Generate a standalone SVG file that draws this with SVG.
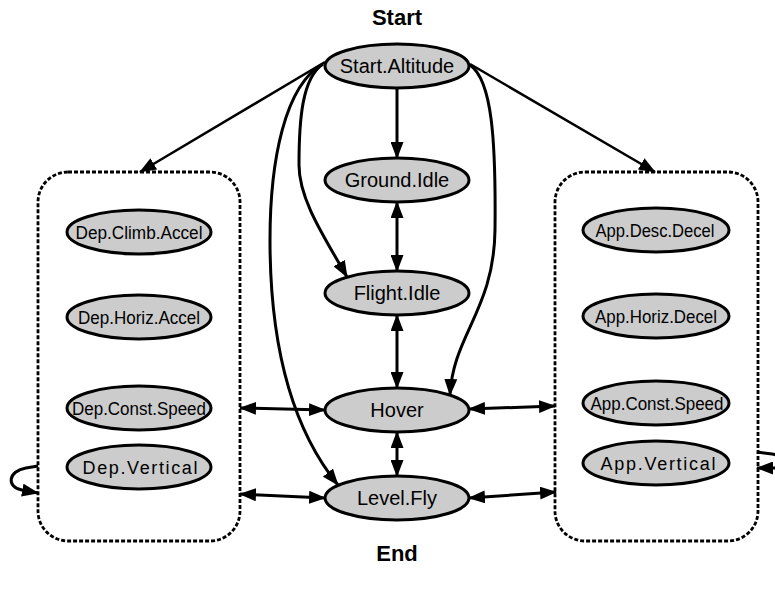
<svg xmlns="http://www.w3.org/2000/svg" width="775" height="595" viewBox="0 0 775 595">
<style>
  .node ellipse { fill: #cccccc; stroke: #000; stroke-width: 3; }
  .lbl { font-family: "Liberation Sans", Arial, sans-serif; font-size: 20px; fill: #000; text-anchor: middle; }
  .sm { font-size: 18px; }
  .title { font-family: "Liberation Sans", Arial, sans-serif; font-size: 22px; font-weight: bold; fill: #000; text-anchor: middle; }
  .box rect { fill: none; stroke: #000; stroke-width: 2.8; stroke-dasharray: 4 2; }
  .edges path { fill: none; stroke: #000; stroke-width: 3; }
  .edges .thin { stroke-width: 2.5; }
</style>
<defs>
  <marker id="ah" viewBox="0 0 17 13" markerWidth="17" markerHeight="13" refX="16" refY="6.5" orient="auto-start-reverse" markerUnits="userSpaceOnUse">
    <path d="M0,0 L17,6.5 L0,13 z" fill="#000"/>
  </marker>
</defs>
<rect width="775" height="595" fill="#fff"/>

<text class="title" x="397" y="25">Start</text>
<text class="title" x="397" y="561">End</text>

<g id="dep_box" class="box"><rect x="38" y="172" width="202" height="369" rx="30" ry="30"/></g>
<g id="app_box" class="box"><rect x="555" y="172" width="203" height="369" rx="30" ry="30"/></g>

<g id="edges" class="edges">
  <path class="thin" d="M325 62 L140 172" marker-end="url(#ah)"/>
  <path class="thin" d="M470 64 L655 172" marker-end="url(#ah)"/>
  <path d="M397 88 L397 158" marker-end="url(#ah)"/>
  <path d="M397 202 L397 271" marker-start="url(#ah)" marker-end="url(#ah)"/>
  <path d="M397 315 L397 388" marker-start="url(#ah)" marker-end="url(#ah)"/>
  <path d="M397 432 L397 476" marker-start="url(#ah)" marker-end="url(#ah)"/>
  <path d="M323 64 C302 78 299 120 299 165 C299 200 325 238 347 277" marker-end="url(#ah)"/>
  <path d="M323 64 C285 85 270 160 270 240 C270 330 285 420 338 485" marker-end="url(#ah)"/>
  <path d="M470 65 C492 80 496 140 495 230 C494 310 453 335 450 395" marker-end="url(#ah)"/>
  <path d="M240 408 L325 410" marker-start="url(#ah)" marker-end="url(#ah)"/>
  <path d="M240 494 L325 498" marker-start="url(#ah)" marker-end="url(#ah)"/>
  <path d="M469 409 L555 406" marker-start="url(#ah)" marker-end="url(#ah)"/>
  <path d="M469 498 L556 492" marker-start="url(#ah)" marker-end="url(#ah)"/>
  <path d="M38 466 L26 468 C8 471 6 487 22 490 L38 493" marker-end="url(#ah)"/>
  <path d="M757 452 L772 454 C790 457 790 468 775 468 L757 468" marker-end="url(#ah)"/>
</g>

<g id="start_altitude" class="node"><ellipse cx="397" cy="66" rx="72" ry="22"/><text class="lbl" x="397" y="73">Start.Altitude</text></g>
<g id="ground_idle" class="node"><ellipse cx="397" cy="180" rx="72" ry="22"/><text class="lbl" x="397" y="187">Ground.Idle</text></g>
<g id="flight_idle" class="node"><ellipse cx="397" cy="293" rx="72" ry="22"/><text class="lbl" x="397" y="300">Flight.Idle</text></g>
<g id="hover" class="node"><ellipse cx="397" cy="410" rx="72" ry="22"/><text class="lbl" x="397" y="417">Hover</text></g>
<g id="level_fly" class="node"><ellipse cx="397" cy="498" rx="72" ry="22"/><text class="lbl" x="397" y="505">Level.Fly</text></g>

<g id="dep_climb_accel" class="node"><ellipse cx="139" cy="232" rx="72" ry="22"/><text class="lbl sm" x="139" y="238.5" textLength="127" lengthAdjust="spacingAndGlyphs">Dep.Climb.Accel</text></g>
<g id="dep_horiz_accel" class="node"><ellipse cx="139" cy="317" rx="72" ry="22"/><text class="lbl sm" x="139" y="323.5" textLength="122" lengthAdjust="spacingAndGlyphs">Dep.Horiz.Accel</text></g>
<g id="dep_const_speed" class="node"><ellipse cx="139" cy="408" rx="72" ry="22"/><text class="lbl sm" x="139" y="414.5" textLength="134" lengthAdjust="spacingAndGlyphs">Dep.Const.Speed</text></g>
<g id="dep_vertical" class="node"><ellipse cx="139" cy="467" rx="72" ry="22"/><text class="lbl sm" x="140" y="473.5" textLength="115" lengthAdjust="spacing">Dep.Vertical</text></g>

<g id="app_desc_decel" class="node"><ellipse cx="656" cy="230" rx="73" ry="22"/><text class="lbl sm" x="655" y="236.5" textLength="119" lengthAdjust="spacingAndGlyphs">App.Desc.Decel</text></g>
<g id="app_horiz_decel" class="node"><ellipse cx="656" cy="316" rx="73" ry="22"/><text class="lbl sm" x="656" y="322.5" textLength="122" lengthAdjust="spacingAndGlyphs">App.Horiz.Decel</text></g>
<g id="app_const_speed" class="node"><ellipse cx="656" cy="403" rx="73" ry="22"/><text class="lbl sm" x="657" y="409.5" textLength="133" lengthAdjust="spacingAndGlyphs">App.Const.Speed</text></g>
<g id="app_vertical" class="node"><ellipse cx="656" cy="463" rx="73" ry="22"/><text class="lbl sm" x="658" y="469.5" textLength="115" lengthAdjust="spacing">App.Vertical</text></g>
</svg>
